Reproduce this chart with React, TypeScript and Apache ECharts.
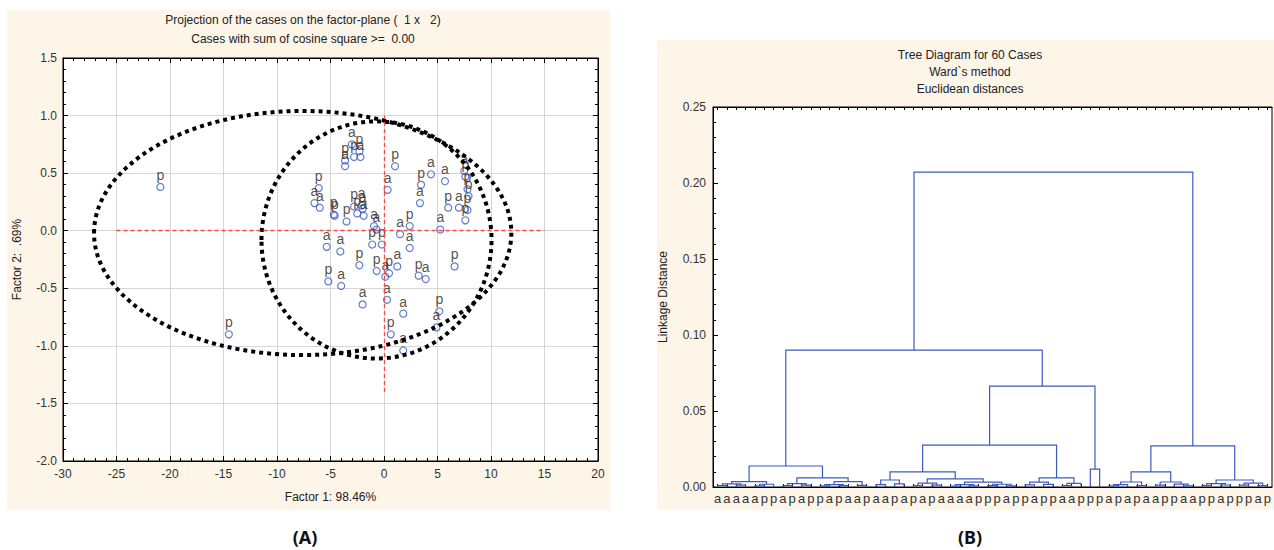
import React, { useEffect, useRef } from "react";
import * as echarts from "echarts";

// ---------- Panel A: factor-plane projection ----------
const caseLabels = [
  "p", "p", "a", "p", "a", "p", "p", "a", "p", "a",
  "a", "p", "p", "p", "p", "a", "a", "p", "a", "a",
  "a", "p", "p", "a", "p", "a", "p", "a", "p", "a",
  "a", "a", "a", "p", "a", "p", "p", "p", "p", "a",
  "a", "a", "p", "p", "a", "p", "a", "p", "a", "p",
  "p", "a", "a", "a", "a", "p", "a", "p", "a", "p",
];
const factor1 = [
  -20.9, -14.5, -3.0, -2.8, -2.2, -2.3, -3.64, -3.64, -6.1, -6.5,
  -6.0, -4.7, -4.6, -3.5, -2.8, -2.1, -1.9, -2.5, -2.0, -0.93,
  -0.7, -1.1, -0.2, 0.34, 1.03, 1.5, 2.4, 2.4, 3.46, 3.36,
  4.39, 5.7, 5.26, 6.0, 7.0, 7.8, 7.8, 7.6, 7.6, 7.5,
  -5.36, -4.08, -2.3, -0.68, 0.12, 0.47, 1.24, 3.24, 3.9, 6.6,
  -5.2, -4.0, -2.0, 0.28, 1.8, 5.17, 4.9, 0.63, 1.8, 7.9,
];
const factor2 = [
  0.38, -0.9, 0.75, 0.64, 0.64, 0.69, 0.61, 0.56, 0.37, 0.24,
  0.2, 0.14, 0.13, 0.08, 0.21, 0.22, 0.13, 0.15, 0.19, 0.04,
  0.01, -0.12, -0.12, 0.355, 0.56, -0.03, 0.04, -0.15, 0.4, 0.24,
  0.49, 0.43, 0.01, 0.2, 0.2, 0.18, 0.36, 0.09, 0.47, 0.52,
  -0.14, -0.18, -0.3, -0.35, -0.4, -0.37, -0.31, -0.39, -0.42, -0.31,
  -0.44, -0.48, -0.64, -0.6, -0.72, -0.7, -0.84, -0.9, -1.04, 0.3,
];
// ellipses: [centerX, centerY, radiusX, radiusY]
const ellipseOuter = [-7.6, -0.02, 19.5, 1.06];
const ellipseInner = [-0.7, -0.08, 10.75, 1.03];
// red reference cross
const crossH = [[-25, 0], [15, 0]];
const crossV = [[0, -1.4], [0, 1.0]];

// ---------- Panel B: Ward dendrogram ----------
const leafLabels = [
  "a", "a", "a", "a", "a", "p", "p", "a", "p", "a", "p", "p", "a", "p", "a",
  "a", "p", "a", "a", "p", "a", "p", "a", "p", "a", "a", "a", "a", "p", "p",
  "p", "a", "p", "p", "a", "p", "p", "a", "a", "p", "p", "p", "a", "p", "a",
  "p", "a", "a", "p", "p", "a", "a", "p", "p", "a", "p", "p", "p", "a", "p",
];
// node = [height, left, right]; leaves are case positions 1..60
const clusterLA = [0.0138,
  [0.0035, [0.002, [0.001, 1, 2], [0.0012, 3, 4]], [0.0018, [0.0008, 5, 6], 7]],
  [0.006, [0.0022, [0.001, 8, 9], [0.0012, 10, 11]],
    [0.0035, [0.0016, [0.0007, 12, 13], [0.0009, 14, 15]], [0.0011, 16, 17]]]];
const clusterLBL = [0.0276,
  [0.0099, [0.0046, [0.0015, 18, 19], [0.002, 20, 21]],
    [0.0053, [0.0025, [0.001, 22, 23], [0.0012, 24, 25]],
      [0.0032, [0.0015, [0.0006, 26, 27], [0.0008, 28, 29]], [0.0018, [0.0009, 30, 31], [0.0007, 32, 33]]]]],
  [0.006, [0.0032, [0.0014, 34, 35], [0.0017, 36, 37]], [0.0024, [0.001, 38, 39], 40]]];
const clusterLBR = [0.0118, 41, 42];
const clusterR = [0.027,
  [0.0099, [0.0033, [0.0015, [0.0007, 43, 44], 45], [0.001, 46, 47]],
    [0.0033, [0.0012, 48, 49], [0.0019, 50, [0.0008, 51, 52]]]],
  [0.0046, [0.0022, [0.001, 53, 54], [0.0013, 55, 56]], [0.0026, [0.0012, 57, 58], [0.0009, 59, 60]]]];
const clusterL = [0.0901, clusterLA, [0.0664, clusterLBL, clusterLBR]];
const treeRoot = [0.2072, clusterL, clusterR];

const FONT = "'Liberation Sans', Arial, sans-serif";
const PANEL = "#fdf5e8";
const BLUE = "#3d5bbf";

function buildSegments(node: any, out: number[][]): { x: number; h: number } {
  if (typeof node === "number") return { x: node, h: 0 };
  const l = buildSegments(node[1], out);
  const r = buildSegments(node[2], out);
  out.push([l.x, l.h, r.x, r.h, node[0]]);
  return { x: (l.x + r.x) / 2, h: node[0] };
}

export default function App() {
  const ref = useRef<HTMLDivElement>(null);
  useEffect(() => {
    if (!ref.current) return;
    const chart = echarts.init(ref.current, undefined, { renderer: "svg" });
    const segments: number[][] = [];
    buildSegments(treeRoot, segments);
    const scatterData = factor1.map((x, i) => [x, factor2[i]]);

    const axisLineBlack = { show: true, onZero: false, lineStyle: { color: "#000" } };
    const tickBlack = { show: true, inside: true, length: 5, lineStyle: { color: "#000" } };
    const minorBlack = { show: true, splitNumber: 5, length: 3, lineStyle: { color: "#000" } };
    const labelStyle = { color: "#333", fontSize: 12, fontFamily: FONT };

    const option: any = {
      animation: false,
      backgroundColor: "#ffffff",
      textStyle: { fontFamily: FONT },
      graphic: [
        { type: "rect", z: -10, shape: { x: 7, y: 10, width: 603, height: 500 }, style: { fill: PANEL } },
        { type: "rect", z: -10, shape: { x: 657, y: 40, width: 617, height: 470 }, style: { fill: PANEL } },
        { type: "text", x: 303, y: 20, style: { text: "Projection of the cases on the factor-plane (  1 x   2)", font: `12px ${FONT}`, fill: "#222", textAlign: "center", textVerticalAlign: "middle" } },
        { type: "text", x: 303, y: 39, style: { text: "Cases with sum of cosine square >=  0.00", font: `12px ${FONT}`, fill: "#222", textAlign: "center", textVerticalAlign: "middle" } },
        { type: "text", x: 970, y: 55, style: { text: "Tree Diagram for 60 Cases", font: `12px ${FONT}`, fill: "#222", textAlign: "center", textVerticalAlign: "middle" } },
        { type: "text", x: 970, y: 72, style: { text: "Ward`s method", font: `12px ${FONT}`, fill: "#222", textAlign: "center", textVerticalAlign: "middle" } },
        { type: "text", x: 970, y: 89, style: { text: "Euclidean distances", font: `12px ${FONT}`, fill: "#222", textAlign: "center", textVerticalAlign: "middle" } },
        { type: "text", x: 305, y: 537, style: { text: "(A)", font: `bold 18px 'Noto Sans', sans-serif`, fill: "#111", textAlign: "center", textVerticalAlign: "middle" } },
        { type: "text", x: 970, y: 537, style: { text: "(B)", font: `bold 18px 'Noto Sans', sans-serif`, fill: "#111", textAlign: "center", textVerticalAlign: "middle" } },
      ],
      grid: [
        { left: 63, top: 58, width: 535, height: 403, show: true, backgroundColor: "#fff", borderColor: "#000", borderWidth: 1 },
        { left: 713, top: 107, width: 559, height: 380, show: true, backgroundColor: "#fff", borderColor: "#000", borderWidth: 1 },
      ],
      xAxis: [
        {
          gridIndex: 0, type: "value", min: -30, max: 20, interval: 5, position: "bottom",
          axisLine: axisLineBlack,
          axisTick: tickBlack, minorTick: minorBlack,
          axisLabel: { ...labelStyle, margin: 7 },
          splitLine: { show: true, lineStyle: { color: "#d6d6d6" } },
          name: "Factor 1: 98.46%", nameLocation: "middle", nameGap: 30,
          nameTextStyle: { fontSize: 12, color: "#222", fontFamily: FONT },
        },
        {
          gridIndex: 0, type: "value", min: -30, max: 20, interval: 5, position: "top",
          axisLine: axisLineBlack,
          axisTick: tickBlack, minorTick: minorBlack,
          axisLabel: { show: false }, splitLine: { show: false },
        },
        {
          gridIndex: 1, type: "category", data: leafLabels, position: "bottom", boundaryGap: true,
          axisLine: axisLineBlack,
          axisTick: { show: true, inside: true, length: 3, alignWithLabel: true, interval: 0, lineStyle: { color: "#000" } },
          axisLabel: { ...labelStyle, interval: 0, margin: 5, fontSize: 13 },
          splitLine: { show: false },
        },
        { gridIndex: 1, type: "value", min: 0.5, max: 60.5, show: false },
        {
          gridIndex: 1, type: "category", data: leafLabels, position: "top", boundaryGap: true,
          axisLine: axisLineBlack,
          axisTick: { show: true, inside: true, length: 3, alignWithLabel: true, interval: 0, lineStyle: { color: "#000" } },
          axisLabel: { show: false }, splitLine: { show: false },
        },
      ],
      yAxis: [
        {
          gridIndex: 0, type: "value", min: -2, max: 1.5, interval: 0.5, position: "left",
          axisLine: axisLineBlack,
          axisTick: tickBlack, minorTick: minorBlack,
          axisLabel: { ...labelStyle, margin: 6, formatter: (v: number) => v.toFixed(1) },
          splitLine: { show: true, lineStyle: { color: "#d6d6d6" } },
          name: "Factor 2:  .69%", nameLocation: "middle", nameGap: 40,
          nameTextStyle: { fontSize: 12, color: "#222", fontFamily: FONT },
        },
        {
          gridIndex: 0, type: "value", min: -2, max: 1.5, interval: 0.5, position: "right",
          axisLine: axisLineBlack,
          axisTick: tickBlack, minorTick: minorBlack,
          axisLabel: { show: false }, splitLine: { show: false },
        },
        {
          gridIndex: 1, type: "value", min: 0, max: 0.25, interval: 0.05, position: "left",
          axisLine: axisLineBlack,
          axisTick: tickBlack, minorTick: minorBlack,
          axisLabel: { ...labelStyle, margin: 7, formatter: (v: number) => v.toFixed(2) },
          splitLine: { show: false },
          name: "Linkage Distance", nameLocation: "middle", nameGap: 44,
          nameTextStyle: { fontSize: 12, color: "#222", fontFamily: FONT },
        },
      ],
      series: [
        {
          type: "scatter", xAxisIndex: 0, yAxisIndex: 0, data: scatterData,
          symbol: "circle", symbolSize: 7,
          itemStyle: { color: "rgba(255,255,255,0)", borderColor: BLUE, borderWidth: 1.2 },
          label: {
            show: true, position: "top", distance: 1,
            formatter: (p: any) => caseLabels[p.dataIndex],
            fontSize: 14, color: "#2b2218", fontFamily: FONT,
          },
          markLine: {
            silent: true, symbol: ["none", "none"], label: { show: false },
            lineStyle: { color: "#ff4a4a", type: [4, 3], width: 1.3 },
            data: [
              [{ coord: crossH[0] }, { coord: crossH[1] }],
              [{ coord: crossV[0] }, { coord: crossV[1] }],
            ],
          },
          z: 3,
        },
        {
          type: "custom", xAxisIndex: 0, yAxisIndex: 0,
          data: [ellipseOuter, ellipseInner],
          renderItem: (params: any, api: any) => {
            const c = api.coord([api.value(0), api.value(1)]);
            const s = api.size([api.value(2), api.value(3)], [api.value(0), api.value(1)]);
            return {
              type: "ellipse",
              shape: { cx: c[0], cy: c[1], rx: s[0], ry: s[1] },
              style: { fill: "none", stroke: "#000", lineWidth: 4, lineDash: [4, 4] },
            };
          },
          z: 4, silent: true,
        },
        {
          type: "custom", xAxisIndex: 3, yAxisIndex: 2,
          data: segments,
          encode: { x: [0, 2], y: [1, 3, 4] },
          renderItem: (params: any, api: any) => {
            const xl = api.value(0), hl = api.value(1), xr = api.value(2), hr = api.value(3), h = api.value(4);
            const pts = [api.coord([xl, hl]), api.coord([xl, h]), api.coord([xr, h]), api.coord([xr, hr])];
            return {
              type: "polyline",
              shape: { points: pts },
              style: { fill: "none", stroke: BLUE, lineWidth: 1.2 },
            };
          },
          silent: true,
        },
      ],
    };
    chart.setOption(option);
    return () => chart.dispose();
  }, []);
  return <div ref={ref} style={{ position: "fixed", left: 0, top: 0, width: 1274, height: 550 }} />;
}
